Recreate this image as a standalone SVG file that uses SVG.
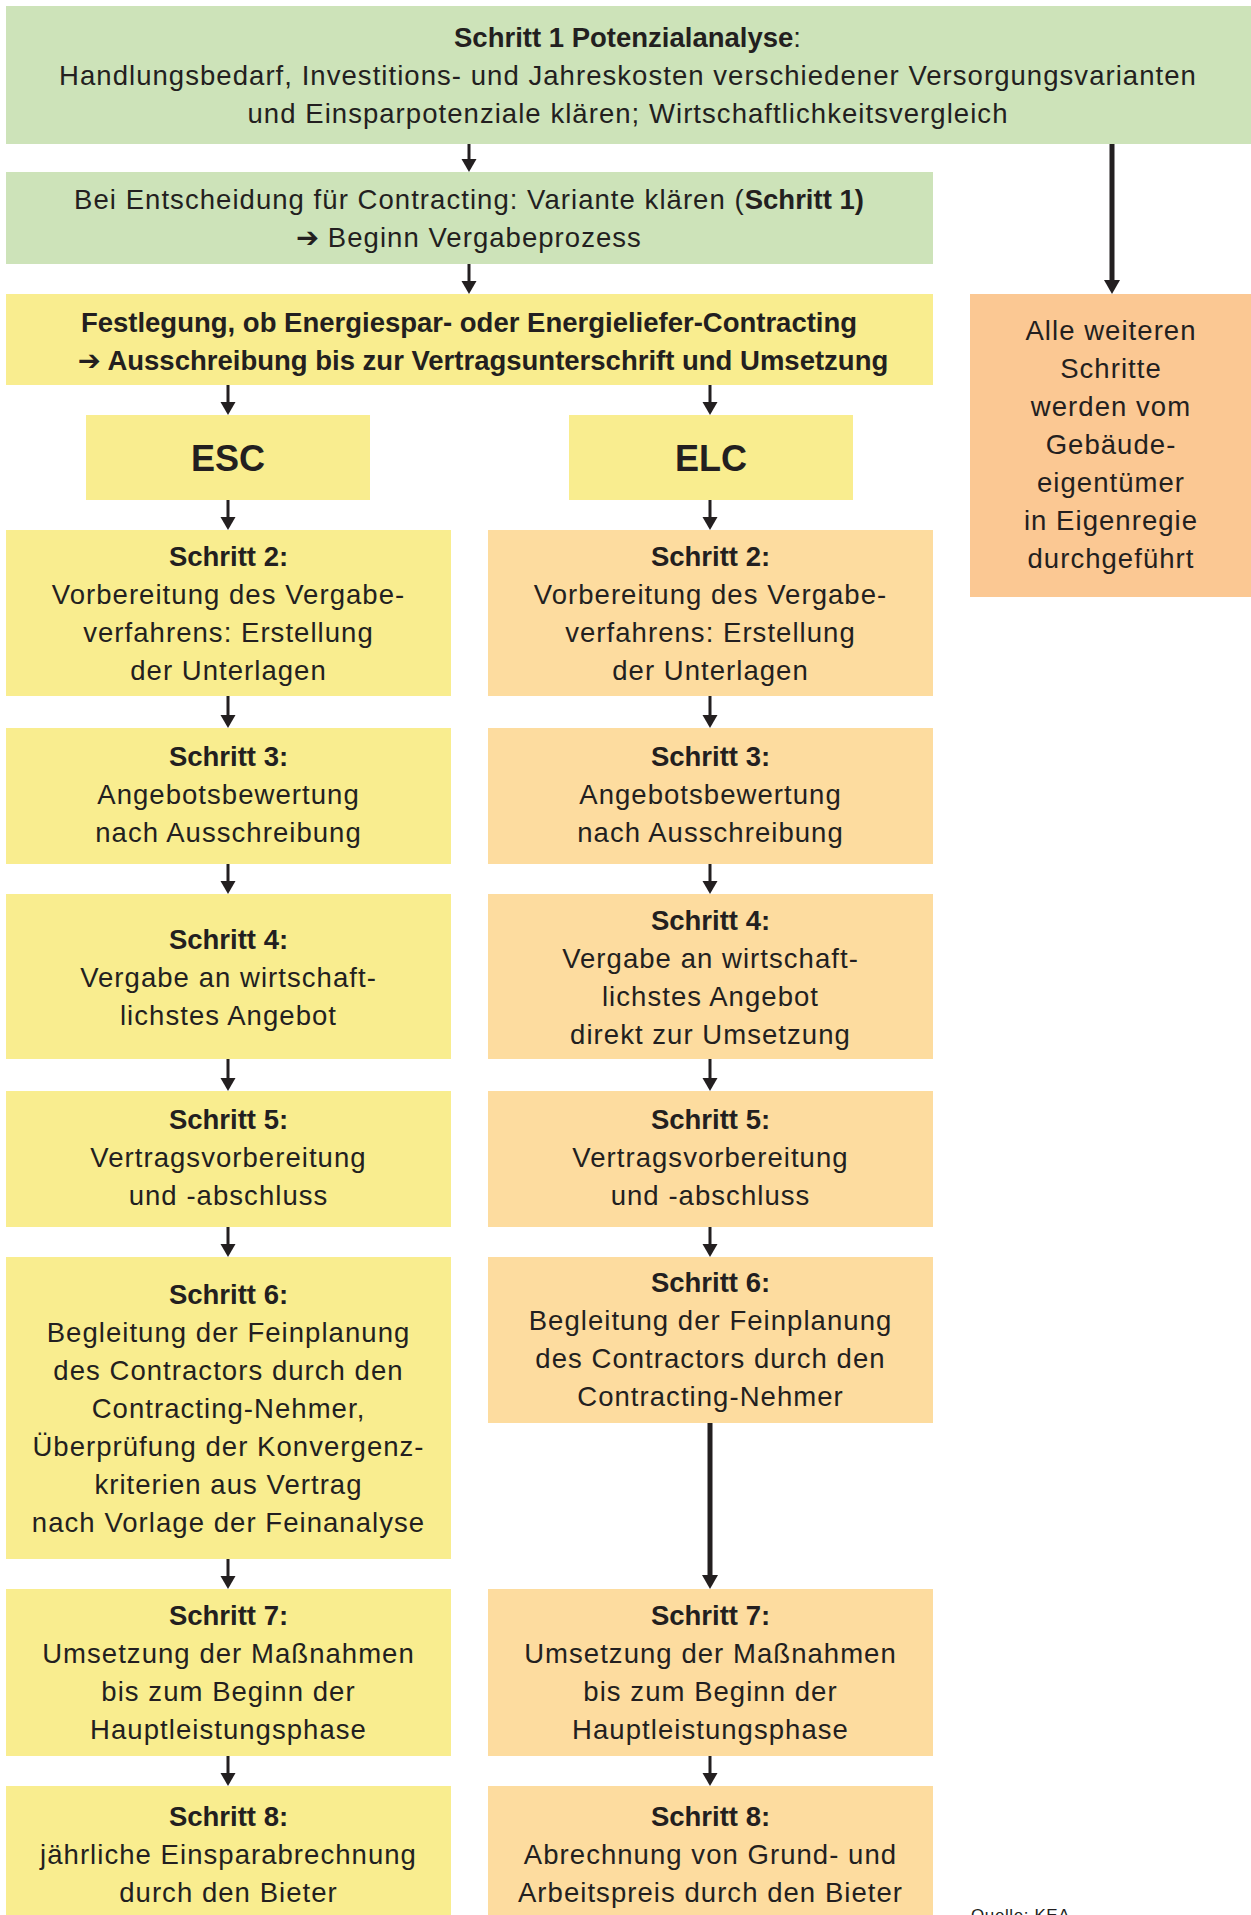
<svg xmlns="http://www.w3.org/2000/svg" width="1251" height="1915" viewBox="0 0 1251 1915">
<style>
.t{font-family:"Liberation Sans",Arial,sans-serif;font-size:27.5px;fill:#231f20;text-anchor:middle;letter-spacing:1.05px}
.b{font-weight:bold;letter-spacing:0}
.r{font-weight:normal;letter-spacing:1px}
.big{font-family:"Liberation Sans",Arial,sans-serif;font-size:36px;font-weight:bold;fill:#231f20;text-anchor:middle}
.ar{font-family:"DejaVu Sans",sans-serif;font-weight:bold;letter-spacing:0}
.g{fill:#cde3b9}
.y{fill:#f9ed8f}
.o{fill:#fddc9f}
.oo{fill:#fbc893}
.c{stroke:#231f20;stroke-width:3;fill:none;marker-end:url(#ah)}
.ct{stroke:#231f20;stroke-width:5;fill:none;marker-end:url(#ah2)}
.src{font-family:"Liberation Sans",Arial,sans-serif;font-size:17px;fill:#231f20;letter-spacing:0.6px}
</style>
<defs>
<marker id="ah" markerUnits="userSpaceOnUse" markerWidth="16" markerHeight="16" refX="0" refY="7.5" orient="auto" overflow="visible">
<path d="M0,0 L13,7.5 L0,15 Z" fill="#231f20"/>
</marker>
<marker id="ah2" markerUnits="userSpaceOnUse" markerWidth="17" markerHeight="17" refX="0" refY="8" orient="auto" overflow="visible">
<path d="M0,0 L14,8 L0,16 Z" fill="#231f20"/>
</marker>
</defs>
<rect width="1251" height="1915" fill="#ffffff"/>

<g id="connectors">
<line class="c" x1="469" y1="144" x2="469" y2="159"/>
<line class="c" x1="469" y1="264" x2="469" y2="281"/>
<line class="ct" x1="1112" y1="144" x2="1112" y2="280"/>
<line class="c" x1="228" y1="385" x2="228" y2="402"/>
<line class="c" x1="710" y1="385" x2="710" y2="402"/>
<line class="c" x1="228" y1="500" x2="228" y2="517"/>
<line class="c" x1="710" y1="500" x2="710" y2="517"/>
<line class="c" x1="228" y1="696" x2="228" y2="715"/>
<line class="c" x1="710" y1="696" x2="710" y2="715"/>
<line class="c" x1="228" y1="864" x2="228" y2="881"/>
<line class="c" x1="710" y1="864" x2="710" y2="881"/>
<line class="c" x1="228" y1="1059" x2="228" y2="1078"/>
<line class="c" x1="710" y1="1059" x2="710" y2="1078"/>
<line class="c" x1="228" y1="1227" x2="228" y2="1244"/>
<line class="c" x1="710" y1="1227" x2="710" y2="1244"/>
<line class="c" x1="228" y1="1559" x2="228" y2="1576"/>
<line class="ct" x1="710" y1="1423" x2="710" y2="1575"/>
<line class="c" x1="228" y1="1756" x2="228" y2="1773"/>
<line class="c" x1="710" y1="1756" x2="710" y2="1773"/>
</g>

<g id="step1">
<rect class="g" x="6" y="6" width="1245" height="138"/>
<text class="t"><tspan class="b" x="628" y="47">Schritt 1 Potenzialanalyse</tspan><tspan class="r">:</tspan><tspan x="628" y="85">Handlungsbedarf, Investitions- und Jahreskosten verschiedener Versorgungsvarianten</tspan><tspan x="628" y="123">und Einsparpotenziale klären; Wirtschaftlichkeitsvergleich</tspan></text>
</g>

<g id="decision">
<rect class="g" x="6" y="172" width="927" height="92"/>
<text class="t"><tspan x="469" y="209">Bei Entscheidung für Contracting: Variante klären (<tspan class="b">Schritt 1)</tspan></tspan><tspan x="469" y="247"><tspan class="ar">➔</tspan> Beginn Vergabeprozess</tspan></text>
</g>

<g id="festlegung">
<rect class="y" x="6" y="294" width="927" height="91"/>
<text class="t b"><tspan x="469" y="332">Festlegung, ob Energiespar- oder Energieliefer-Contracting</tspan><tspan x="483" y="370"><tspan class="ar">➔</tspan> Ausschreibung bis zur Vertragsunterschrift und Umsetzung</tspan></text>
</g>

<g id="eigenregie">
<rect class="oo" x="970" y="294" width="281" height="303"/>
<text class="t"><tspan x="1111" y="340">Alle weiteren</tspan><tspan x="1111" y="378">Schritte</tspan><tspan x="1111" y="416">werden vom</tspan><tspan x="1111" y="454">Gebäude-</tspan><tspan x="1111" y="492">eigentümer</tspan><tspan x="1111" y="530">in Eigenregie</tspan><tspan x="1111" y="568">durchgeführt</tspan></text>
</g>

<g id="esc">
<rect class="y" x="86" y="415" width="284" height="85"/>
<text class="big" x="228" y="471">ESC</text>
</g>
<g id="elc">
<rect class="y" x="569" y="415" width="284" height="85"/>
<text class="big" x="711" y="471">ELC</text>
</g>

<g id="esc-step2">
<rect class="y" x="6" y="530" width="445" height="166"/>
<text class="t"><tspan class="b" x="228.5" y="566">Schritt 2:</tspan><tspan x="228.5" y="604">Vorbereitung des Vergabe-</tspan><tspan x="228.5" y="642">verfahrens: Erstellung</tspan><tspan x="228.5" y="680">der Unterlagen</tspan></text>
</g>
<g id="elc-step2">
<rect class="o" x="488" y="530" width="445" height="166"/>
<text class="t"><tspan class="b" x="710.5" y="566">Schritt 2:</tspan><tspan x="710.5" y="604">Vorbereitung des Vergabe-</tspan><tspan x="710.5" y="642">verfahrens: Erstellung</tspan><tspan x="710.5" y="680">der Unterlagen</tspan></text>
</g>

<g id="esc-step3">
<rect class="y" x="6" y="728" width="445" height="136"/>
<text class="t"><tspan class="b" x="228.5" y="766">Schritt 3:</tspan><tspan x="228.5" y="804">Angebotsbewertung</tspan><tspan x="228.5" y="842">nach Ausschreibung</tspan></text>
</g>
<g id="elc-step3">
<rect class="o" x="488" y="728" width="445" height="136"/>
<text class="t"><tspan class="b" x="710.5" y="766">Schritt 3:</tspan><tspan x="710.5" y="804">Angebotsbewertung</tspan><tspan x="710.5" y="842">nach Ausschreibung</tspan></text>
</g>

<g id="esc-step4">
<rect class="y" x="6" y="894" width="445" height="165"/>
<text class="t"><tspan class="b" x="228.5" y="949">Schritt 4:</tspan><tspan x="228.5" y="987">Vergabe an wirtschaft-</tspan><tspan x="228.5" y="1025">lichstes Angebot</tspan></text>
</g>
<g id="elc-step4">
<rect class="o" x="488" y="894" width="445" height="165"/>
<text class="t"><tspan class="b" x="710.5" y="930">Schritt 4:</tspan><tspan x="710.5" y="968">Vergabe an wirtschaft-</tspan><tspan x="710.5" y="1006">lichstes Angebot</tspan><tspan x="710.5" y="1044">direkt zur Umsetzung</tspan></text>
</g>

<g id="esc-step5">
<rect class="y" x="6" y="1091" width="445" height="136"/>
<text class="t"><tspan class="b" x="228.5" y="1129">Schritt 5:</tspan><tspan x="228.5" y="1167">Vertragsvorbereitung</tspan><tspan x="228.5" y="1205">und -abschluss</tspan></text>
</g>
<g id="elc-step5">
<rect class="o" x="488" y="1091" width="445" height="136"/>
<text class="t"><tspan class="b" x="710.5" y="1129">Schritt 5:</tspan><tspan x="710.5" y="1167">Vertragsvorbereitung</tspan><tspan x="710.5" y="1205">und -abschluss</tspan></text>
</g>

<g id="esc-step6">
<rect class="y" x="6" y="1257" width="445" height="302"/>
<text class="t"><tspan class="b" x="228.5" y="1304">Schritt 6:</tspan><tspan x="228.5" y="1342">Begleitung der Feinplanung</tspan><tspan x="228.5" y="1380">des Contractors durch den</tspan><tspan x="228.5" y="1418">Contracting-Nehmer,</tspan><tspan x="228.5" y="1456">Überprüfung der Konvergenz-</tspan><tspan x="228.5" y="1494">kriterien aus Vertrag</tspan><tspan x="228.5" y="1532">nach Vorlage der Feinanalyse</tspan></text>
</g>
<g id="elc-step6">
<rect class="o" x="488" y="1257" width="445" height="166"/>
<text class="t"><tspan class="b" x="710.5" y="1292">Schritt 6:</tspan><tspan x="710.5" y="1330">Begleitung der Feinplanung</tspan><tspan x="710.5" y="1368">des Contractors durch den</tspan><tspan x="710.5" y="1406">Contracting-Nehmer</tspan></text>
</g>

<g id="esc-step7">
<rect class="y" x="6" y="1589" width="445" height="167"/>
<text class="t"><tspan class="b" x="228.5" y="1625">Schritt 7:</tspan><tspan x="228.5" y="1663">Umsetzung der Maßnahmen</tspan><tspan x="228.5" y="1701">bis zum Beginn der</tspan><tspan x="228.5" y="1739">Hauptleistungsphase</tspan></text>
</g>
<g id="elc-step7">
<rect class="o" x="488" y="1589" width="445" height="167"/>
<text class="t"><tspan class="b" x="710.5" y="1625">Schritt 7:</tspan><tspan x="710.5" y="1663">Umsetzung der Maßnahmen</tspan><tspan x="710.5" y="1701">bis zum Beginn der</tspan><tspan x="710.5" y="1739">Hauptleistungsphase</tspan></text>
</g>

<g id="esc-step8">
<rect class="y" x="6" y="1786" width="445" height="140"/>
<text class="t"><tspan class="b" x="228.5" y="1826">Schritt 8:</tspan><tspan x="228.5" y="1864">jährliche Einsparabrechnung</tspan><tspan x="228.5" y="1902">durch den Bieter</tspan></text>
</g>
<g id="elc-step8">
<rect class="o" x="488" y="1786" width="445" height="140"/>
<text class="t"><tspan class="b" x="710.5" y="1826">Schritt 8:</tspan><tspan x="710.5" y="1864">Abrechnung von Grund- und</tspan><tspan x="710.5" y="1902">Arbeitspreis durch den Bieter</tspan></text>
</g>

<g id="source">
<text class="src" x="971" y="1921">Quelle: KEA</text>
</g>
</svg>
